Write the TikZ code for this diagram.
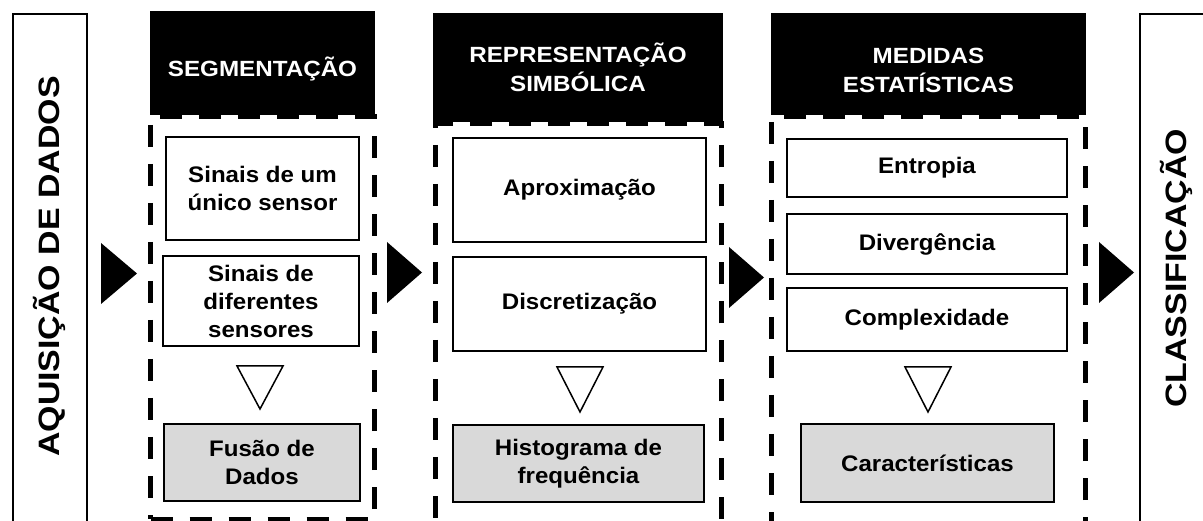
\documentclass[tikz,border=0pt]{standalone}
\usepackage{fontspec}
\setmainfont{Liberation Sans}[FakeStretch=1.07]
\newfontfamily\hdfont{Liberation Sans}[FakeStretch=1.1]
\newfontfamily\vfont{Liberation Sans}[FakeStretch=1.15]
\definecolor{resgray}{RGB}{217,217,217}
\begin{document}
\begin{tikzpicture}[x=1pt,y=-1pt,
  outer/.style={draw, line width=2pt, inner sep=0pt, minimum width=#1},
  head/.style={fill=black, inner sep=0pt},
  headtxt/.style={text=white, font=\hdfont\fontsize{22}{29}\selectfont\bfseries, align=center, inner sep=0pt},
  dashbox/.style={draw, line width=5pt, dash pattern=on 22pt off 17pt, inner sep=0pt},
  box/.style={draw, line width=1.8pt, fill=white, font=\fontsize{22.5}{28}\selectfont\bfseries, align=center, inner sep=0pt},
  res/.style={box, fill=resgray},
  tri/.style={draw, line width=1.5pt, fill=white, line join=miter},
  arr/.style={fill=black},
  vtxt/.style={rotate=90, anchor=base, font=\vfont\fontsize{29.5}{30}\selectfont\bfseries, inner sep=0pt}
]
\useasboundingbox (0,0) rectangle (1203,521);
\clip (0,0) rectangle (1203,521);

% outer side boxes
\node[outer=74pt, minimum height=526pt] (acq) at (50,277) {};
\node[vtxt] (acqt) at (59,266.5) {AQUISIÇÃO DE DADOS};
\node[outer=120pt, minimum height=526pt] (cls) at (1200,277) {};
\node[vtxt] (clst) at (1186,268.5) {CLASSIFICAÇÃO};

% headers
\node[head, minimum width=225pt, minimum height=104pt] (h1) at (262.5,63) {};
\node[head, minimum width=290pt, minimum height=109pt] (h2) at (578,67.5) {};
\node[head, minimum width=315pt, minimum height=102pt] (h3) at (928.5,64) {};
\node[headtxt] (h1t) at (262.5,69) {SEGMENTAÇÃO};
\node[headtxt] (h2t) at (578,67) {REPRESENTAÇÃO\\SIMBÓLICA};
\node[headtxt] (h3t) at (928.5,70) {MEDIDAS\\ESTATÍSTICAS};

% dashed containers
\node[dashbox, minimum width=224pt, minimum height=402pt] (d1) at (262.5,318) {};
\node[dashbox, minimum width=286.5pt, minimum height=420pt] (d2) at (578.25,334) {};
\node[dashbox, minimum width=314pt, minimum height=420pt] (d3) at (928.5,327) {};

% column 1
\node[box, minimum width=193pt, minimum height=103pt] (b11) at (262.5,188.5) {Sinais de um\\único sensor};
\node[box, minimum width=196pt, minimum height=90pt] (b12) at (261,301) {Sinais de\\diferentes\\sensores};
\node[res, minimum width=196pt, minimum height=77pt] (f1) at (262,462.5) {Fusão de\\Dados};
\draw[tri] (237,366) -- (283,366) -- (260,409) -- cycle;

% column 2
\node[box, minimum width=253pt, minimum height=104pt] (b21) at (579.5,190) {Aproximação};
\node[box, minimum width=253pt, minimum height=94pt] (b22) at (579.5,304) {Discretização};
\node[res, minimum width=251pt, minimum height=77pt] (f2) at (578.5,463.5) {Histograma de\\frequência};
\draw[tri] (557,367) -- (603,367) -- (580,412) -- cycle;

% column 3
\node[box, minimum width=280pt, minimum height=58pt] (b31) at (927,168) {Entropia};
\node[box, minimum width=280pt, minimum height=60pt] (b32) at (927,244) {Divergência};
\node[box, minimum width=280pt, minimum height=63pt] (b33) at (927,319.5) {Complexidade};
\node[res, minimum width=253pt, minimum height=78pt] (f3) at (927.5,463) {Características};
\draw[tri] (905,367) -- (951,367) -- (928,412) -- cycle;

% flow arrows
\fill[arr] (101,243) -- (137,273.5) -- (101,304) -- cycle;
\fill[arr] (387,242) -- (422,272.5) -- (387,303) -- cycle;
\fill[arr] (729,247) -- (764,277.5) -- (729,308) -- cycle;
\fill[arr] (1099,242) -- (1134,272.5) -- (1099,303) -- cycle;
\end{tikzpicture}
\end{document}
